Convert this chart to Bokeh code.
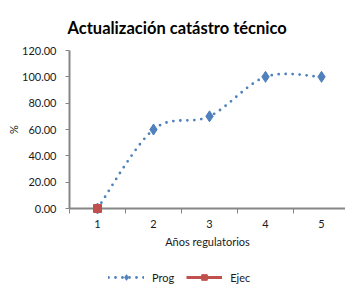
import numpy as np
from bokeh.plotting import figure
from bokeh.layouts import column
from bokeh.models import Range1d, FixedTicker, NumeralTickFormatter, Legend, LegendItem
from bokeh.embed import file_html
from bokeh.resources import INLINE

title_text = "Actualización catástro técnico"
years = [1, 2, 3, 4, 5]
prog = [0.0, 60.0, 70.0, 100.0, 100.0]
ejec_years = [1]
ejec = [0.0]
y_ticks = [0, 20, 40, 60, 80, 100, 120]
x_label = "Años regulatorios"
y_label = "%"
series_names = ["Prog", "Ejec"]

BLUE = "#4F81BD"
RED = "#C0504D"
AX = "#868686"
TXT = "#1a1a1a"
FONT = "Lato"


def smooth(xs, ys, n=40):
    """Excel-style smoothed line: cubic Bezier segments with Catmull-Rom tangents."""
    P = np.column_stack([np.asarray(xs, float), np.asarray(ys, float)])
    Pp = np.vstack([P[:1], P, P[-1:]])
    t = np.linspace(0, 1, n)[:, None]
    out = []
    for i in range(len(P) - 1):
        p0, p3 = P[i], P[i + 1]
        c1 = p0 + (Pp[i + 2] - Pp[i]) / 6.0
        c2 = p3 - (Pp[i + 3] - Pp[i + 1]) / 6.0
        seg = (1 - t) ** 3 * p0 + 3 * (1 - t) ** 2 * t * c1 + 3 * (1 - t) * t ** 2 * c2 + t ** 3 * p3
        out.append(seg if i == 0 else seg[1:])
    out = np.vstack(out)
    return out[:, 0], out[:, 1]


def draw_series(fig, level="overlay"):
    sx, sy = smooth(years, prog)
    lp = fig.line(sx, sy, line_color=BLUE, line_width=2.8, line_dash="0 7", line_cap="round")
    mp = fig.scatter(years, prog, marker="diamond", size=11, fill_color=BLUE, line_color=BLUE,
                     level=level)
    le = fig.line(ejec_years, ejec, line_color=RED, line_width=3)
    me = fig.scatter(ejec_years, ejec, marker="square", size=8, fill_color=RED, line_color=RED,
                     level=level)
    return lp, mp, le, me


# layout (px): frame left 69, y=0 at 208, y=120 at 50
x_end = 0.5 + (345 - 69) / 56.0

p = figure(width=345, height=262, output_backend="svg", toolbar_location=None,
           x_range=Range1d(0.5, x_end), y_range=Range1d(0, 120),
           min_border_left=69, min_border_right=0, min_border_top=50, min_border_bottom=54)
p.outline_line_color = None
p.grid.visible = False
p.background_fill_color = "white"
p.border_fill_color = "white"

draw_series(p)

# title
p.title.text = title_text
p.title.text_font = FONT
p.title.text_font_size = "16.5px"
p.title.text_font_style = "bold"
p.title.text_color = "#000000"
p.title.align = "left"
p.title.vertical_align = "top"
p.title.offset = -2
p.title.standoff = 22

# x axis
xa = p.xaxis[0]
xa.ticker = FixedTicker(ticks=years, minor_ticks=[y - 0.5 for y in years] + [years[-1] + 0.5])
xa.major_tick_out = 0
xa.major_tick_in = 0
xa.minor_tick_out = 5
xa.minor_tick_in = 0
xa.minor_tick_line_color = AX
xa.axis_line_color = AX
xa.axis_line_width = 2
xa.major_label_standoff = 6
xa.major_label_text_font = FONT
xa.major_label_text_font_size = "11px"
xa.major_label_text_color = TXT
xa.axis_label = x_label
xa.axis_label_text_font = FONT
xa.axis_label_text_font_size = "11px"
xa.axis_label_text_font_style = "normal"
xa.axis_label_text_color = TXT
xa.axis_label_standoff = 4

# y axis
ya = p.yaxis[0]
ya.ticker = FixedTicker(ticks=y_ticks, minor_ticks=[])
ya.formatter = NumeralTickFormatter(format="0.00")
ya.major_tick_out = 4
ya.major_tick_in = 0
ya.major_tick_line_color = AX
ya.axis_line_color = AX
ya.axis_line_width = 2
ya.major_label_standoff = 9
ya.major_label_text_font = FONT
ya.major_label_text_font_size = "11px"
ya.major_label_text_color = TXT
ya.axis_label = y_label
ya.axis_label_text_font = FONT
ya.axis_label_text_font_size = "11px"
ya.axis_label_text_font_style = "normal"
ya.axis_label_text_color = TXT
ya.axis_label_standoff = -1

# legend strip below the chart (its own frame, so the legend is not clipped)
pl = figure(width=345, height=25, output_backend="svg", toolbar_location=None,
            x_range=Range1d(100, 101), y_range=Range1d(1000, 1001),
            x_axis_location=None, y_axis_location=None, min_border=0)
pl.outline_line_color = None
pl.grid.visible = False
lp, mp, le, me = draw_series(pl, level="glyph")
legend = Legend(items=[LegendItem(label=series_names[0], renderers=[lp, mp]),
                       LegendItem(label=series_names[1], renderers=[le, me])],
                orientation="horizontal", location=(39, 3),
                border_line_color=None, background_fill_alpha=0,
                padding=0, margin=0, spacing=12, glyph_width=36, glyph_height=14,
                label_standoff=8, label_text_font=FONT, label_text_font_size="11px",
                label_text_color=TXT)
pl.add_layout(legend, "center")

layout = column(p, pl, spacing=0)
open("out.html", "w").write(file_html(layout, INLINE))
